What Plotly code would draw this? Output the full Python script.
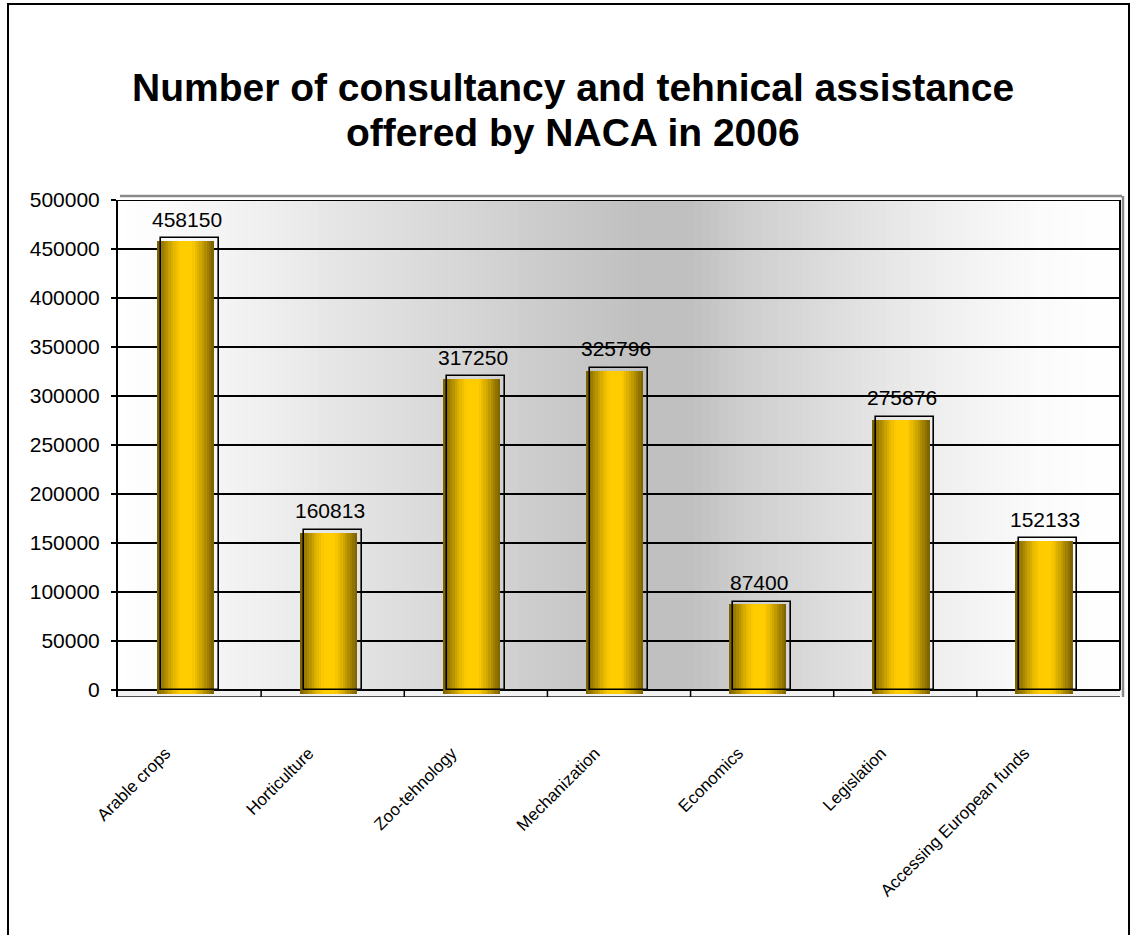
import plotly.graph_objects as go

# ---------------- data ----------------
categories = ["Arable crops", "Horticulture", "Zoo-tehnology", "Mechanization",
              "Economics", "Legislation", "Accessing European funds"]
values = [458150, 160813, 317250, 325796, 87400, 275876, 152133]
y_ticks = [0, 50000, 100000, 150000, 200000, 250000, 300000, 350000, 400000, 450000, 500000]
title_lines = ["Number of consultancy and tehnical assistance", "offered by NACA in 2006"]

# ---------------- style ----------------
FONT = "Liberation Sans, Arial, sans-serif"
Y_MIN = -7000          # floor depth below zero
BAR_BASE = -4000       # cylinder foot sinks slightly into the floor
BOX_LIFT = 3000        # depth box sits a little higher than the cylinder
BAR_W = 0.40
BAR_OFF = -0.231
BOX_W = 0.406
BOX_OFF = -0.203
N_STRIPS = 24

cyl_stops = [(0.0, (118, 94, 0)), (0.12, (160, 128, 0)), (0.30, (228, 182, 0)),
             (0.42, (255, 204, 0)), (0.62, (255, 204, 0)), (0.78, (205, 164, 0)),
             (0.92, (150, 120, 0)), (1.0, (118, 94, 0))]

grad_stops = [(0.0, (255, 255, 255)), (0.04, (252, 252, 252)), (0.52, (192, 192, 192)),
              (0.57, (192, 192, 192)), (0.63, (207, 207, 207)), (0.73, (224, 224, 224)),
              (0.83, (240, 240, 240)), (0.92, (251, 251, 251)), (1.0, (255, 255, 255))]


def interp(stops, t):
    for (t0, c0), (t1, c1) in zip(stops[:-1], stops[1:]):
        if t0 <= t <= t1:
            f = (t - t0) / (t1 - t0) if t1 > t0 else 0
            return "rgb(%d,%d,%d)" % tuple(round(a + (b - a) * f) for a, b in zip(c0, c1))
    return "rgb(%d,%d,%d)" % stops[-1][1]


fig = go.Figure()

# cylinder bars built from thin vertical strips
sw = BAR_W / N_STRIPS
for k in range(N_STRIPS):
    t = (k + 0.5) / N_STRIPS
    fig.add_trace(go.Bar(
        x=categories, y=[v - BAR_BASE for v in values], base=BAR_BASE,
        width=sw * 1.04, offset=BAR_OFF + k * sw,
        marker=dict(color=interp(cyl_stops, t), line=dict(width=0)),
        hoverinfo="skip", showlegend=False))

# depth outline boxes drawn on top
fig.add_trace(go.Bar(
    x=categories, y=[v + BOX_LIFT for v in values], base=0,
    width=BOX_W, offset=BOX_OFF,
    marker=dict(color="rgba(0,0,0,0)", line=dict(color="black", width=1.6)),
    hovertemplate="%{x}: %{customdata}<extra></extra>", customdata=values,
    showlegend=False))

# value labels
for c, v in zip(categories, values):
    fig.add_annotation(x=c, y=v, text=str(v), showarrow=False, yanchor="middle",
                       yshift=22, xshift=-3,
                       font=dict(family=FONT, size=21, color="black"))

# title (two lines, tight Excel-like line spacing)
for line, shift in zip(title_lines, [113, 68]):
    fig.add_annotation(text="<b>" + line + "</b>", xref="paper", yref="paper",
                       x=0.454, y=1, xanchor="center", yanchor="middle", yshift=shift,
                       showarrow=False, font=dict(family=FONT, size=39, color="black"))

shapes = []
NG = 120
for i in range(NG):
    x0 = i / NG
    x1 = (i + 1) / NG
    shapes.append(dict(type="rect", xref="x domain", yref="y", x0=x0, x1=x1 + 0.002,
                       y0=0, y1=500000, fillcolor=interp(grad_stops, (i + 0.5) / NG),
                       line=dict(width=0), layer="below"))
# floor
shapes.append(dict(type="rect", xref="x domain", yref="y", x0=0, x1=1, y0=Y_MIN, y1=0,
                   fillcolor="#f2f2f2", line=dict(width=0), layer="below"))
shapes.append(dict(type="line", xref="x domain", yref="y", x0=0, x1=1, y0=Y_MIN, y1=Y_MIN,
                   line=dict(color="#505050", width=2), layer="above"))
for i in range(len(categories) - 1):
    shapes.append(dict(type="line", xref="x", yref="y", x0=i + 0.5, x1=i + 0.5,
                       y0=Y_MIN, y1=0, line=dict(color="black", width=1.5), layer="above"))
# wall top/right edges (3D look)
shapes.append(dict(type="line", xref="x domain", yref="y", x0=0, x1=1, y0=500000, y1=500000,
                   line=dict(color="black", width=2), layer="above"))
shapes.append(dict(type="line", xref="x domain", yref="y domain", x0=0.002, x1=1.002,
                   y0=1.008, y1=1.008, line=dict(color="#8a8a8a", width=2.5), layer="above"))
shapes.append(dict(type="line", xref="x domain", yref="y", x0=1, x1=1, y0=0, y1=500000,
                   line=dict(color="black", width=2), layer="above"))
shapes.append(dict(type="line", xref="x domain", yref="y domain", x0=1.003, x1=1.003,
                   y0=0.0, y1=1.008, line=dict(color="#8a8a8a", width=2.5), layer="above"))
# outer chart border
shapes.append(dict(type="rect", xref="paper", yref="paper", xsizemode="pixel", ysizemode="pixel",
                   xanchor=0, yanchor=1, x0=-110, x1=1011, y0=196, y1=-800,
                   line=dict(color="black", width=2), fillcolor="rgba(0,0,0,0)", layer="above"))

fig.update_layout(
    width=1131, height=935,
    margin=dict(l=118, r=11, t=200, b=238),
    paper_bgcolor="white", plot_bgcolor="white",
    barmode="overlay", bargap=0,
    shapes=shapes,
    font=dict(family=FONT, color="black"),
    xaxis=dict(type="category", tickangle=-45, showgrid=False, showline=False, ticks="",
               tickfont=dict(family=FONT, size=17, color="black"),
               ticklabelstandoff=42, ticklabelshift=-24, range=[-0.5, 6.5]),
    yaxis=dict(range=[Y_MIN, 500000], tickvals=y_ticks, ticktext=[str(t) for t in y_ticks],
               showgrid=True, gridcolor="black", gridwidth=1.5, zeroline=False,
               showline=True, linecolor="black", linewidth=2,
               ticks="outside", ticklen=5, tickwidth=2, tickcolor="black",
               ticklabelstandoff=7,
               tickfont=dict(family=FONT, size=21, color="black")),
)

fig.write_html("out.html", config={"displayModeBar": False},
               post_script="document.body.style.margin='0';document.body.style.overflow='hidden';")
